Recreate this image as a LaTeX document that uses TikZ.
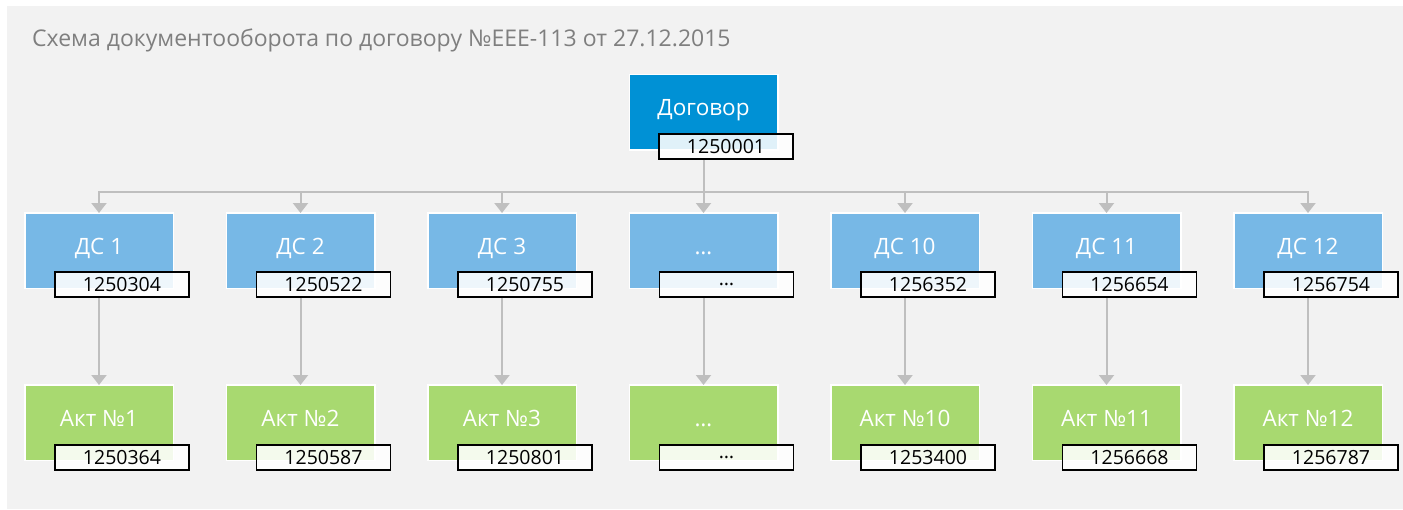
\documentclass[tikz,border=0pt]{standalone}
\usepackage{fontspec}
\setmainfont{Open Sans}
\usetikzlibrary{arrows.meta}

\definecolor{panelgray}{HTML}{F2F2F2}
\definecolor{titlegray}{HTML}{7F7F7F}
\definecolor{linkgray}{HTML}{BFBFBF}
\definecolor{dogblue}{HTML}{0091D5}
\definecolor{dsblue}{HTML}{77B8E6}
\definecolor{aktgreen}{HTML}{A8D970}

\begin{document}
\begin{tikzpicture}[x=1pt, y=-1pt,
    docbox/.style={rectangle, draw=white, line width=1.5pt, minimum width=148.5pt, minimum height=75.5pt,
        inner sep=0pt, text=white, font=\fontsize{22.5}{26}\selectfont, text height=16pt, text depth=9pt},
    numbox/.style={rectangle, draw=black, line width=1.8pt, fill=white, fill opacity=0.88, text opacity=1,
        minimum width=134pt, minimum height=25pt, inner sep=0pt, font=\fontsize{19.5}{23}\selectfont},
    link/.style={draw=linkgray, line width=2pt},
    linkarrow/.style={link, -{Triangle[length=10pt, width=15pt]}}]

    \useasboundingbox (0,0) rectangle (1403,509);
    \fill[white] (0,0) rectangle (1403,509);
    \fill[panelgray] (7,6) rectangle (1403,509);

    \node[anchor=base west, inner sep=0pt, text=titlegray, font=\fontsize{23}{27}\selectfont] (title) at (32,46)
        {Схема документооборота по договору №EEE-113 от 27.12.2015};

    % contract
    \node[docbox, fill=dogblue] (dog) at (703.5,112) {Договор};
    \node[numbox] (dogid) at ([xshift=22.5pt, yshift=-34.5pt]dog.center) {1250001};

    % supplementary agreements
    \node[docbox, fill=dsblue] (ds1) at (99,250.5) {ДС 1};
    \node[docbox, fill=dsblue] (ds2) at (300.5,250.5) {ДС 2};
    \node[docbox, fill=dsblue] (ds3) at (502,250.5) {ДС 3};
    \node[docbox, fill=dsblue] (ds4) at (703.5,250.5) {…};
    \node[docbox, fill=dsblue] (ds5) at (905,250.5) {ДС 10};
    \node[docbox, fill=dsblue] (ds6) at (1106.5,250.5) {ДС 11};
    \node[docbox, fill=dsblue] (ds7) at (1308,250.5) {ДС 12};

    \node[numbox] (dsid1) at ([xshift=23pt, yshift=-34pt]ds1.center) {1250304};
    \node[numbox] (dsid2) at ([xshift=23pt, yshift=-34pt]ds2.center) {1250522};
    \node[numbox] (dsid3) at ([xshift=23pt, yshift=-34pt]ds3.center) {1250755};
    \node[numbox] (dsid4) at ([xshift=23pt, yshift=-34pt]ds4.center) {…};
    \node[numbox] (dsid5) at ([xshift=23pt, yshift=-34pt]ds5.center) {1256352};
    \node[numbox] (dsid6) at ([xshift=23pt, yshift=-34pt]ds6.center) {1256654};
    \node[numbox] (dsid7) at ([xshift=23pt, yshift=-34pt]ds7.center) {1256754};

    % acts
    \node[docbox, fill=aktgreen] (akt1) at (99,422.5) {Акт №1};
    \node[docbox, fill=aktgreen] (akt2) at (300.5,422.5) {Акт №2};
    \node[docbox, fill=aktgreen] (akt3) at (502,422.5) {Акт №3};
    \node[docbox, fill=aktgreen] (akt4) at (703.5,422.5) {…};
    \node[docbox, fill=aktgreen] (akt5) at (905,422.5) {Акт №10};
    \node[docbox, fill=aktgreen] (akt6) at (1106.5,422.5) {Акт №11};
    \node[docbox, fill=aktgreen] (akt7) at (1308,422.5) {Акт №12};

    \node[numbox] (aktid1) at ([xshift=23pt, yshift=-35pt]akt1.center) {1250364};
    \node[numbox] (aktid2) at ([xshift=23pt, yshift=-35pt]akt2.center) {1250587};
    \node[numbox] (aktid3) at ([xshift=23pt, yshift=-35pt]akt3.center) {1250801};
    \node[numbox] (aktid4) at ([xshift=23pt, yshift=-35pt]akt4.center) {…};
    \node[numbox] (aktid5) at ([xshift=23pt, yshift=-35pt]akt5.center) {1253400};
    \node[numbox] (aktid6) at ([xshift=23pt, yshift=-35pt]akt6.center) {1256668};
    \node[numbox] (aktid7) at ([xshift=23pt, yshift=-35pt]akt7.center) {1256787};

    % connectors
    \coordinate (bus) at (703.5,192);
    \draw[link] (dog.center |- dogid.south) -- (bus);
    \draw[linkarrow] (bus) -| ([yshift=-1pt]ds1.north);
    \draw[linkarrow] (bus) -| ([yshift=-1pt]ds2.north);
    \draw[linkarrow] (bus) -| ([yshift=-1pt]ds3.north);
    \draw[linkarrow] (bus) -- ([yshift=-1pt]ds4.north);
    \draw[linkarrow] (bus) -| ([yshift=-1pt]ds5.north);
    \draw[linkarrow] (bus) -| ([yshift=-1pt]ds6.north);
    \draw[linkarrow] (bus) -| ([yshift=-1pt]ds7.north);

    \draw[linkarrow] (ds1.center |- dsid1.south) -- ([yshift=-1pt]akt1.north);
    \draw[linkarrow] (ds2.center |- dsid2.south) -- ([yshift=-1pt]akt2.north);
    \draw[linkarrow] (ds3.center |- dsid3.south) -- ([yshift=-1pt]akt3.north);
    \draw[linkarrow] (ds4.center |- dsid4.south) -- ([yshift=-1pt]akt4.north);
    \draw[linkarrow] (ds5.center |- dsid5.south) -- ([yshift=-1pt]akt5.north);
    \draw[linkarrow] (ds6.center |- dsid6.south) -- ([yshift=-1pt]akt6.north);
    \draw[linkarrow] (ds7.center |- dsid7.south) -- ([yshift=-1pt]akt7.north);
\end{tikzpicture}
\end{document}
